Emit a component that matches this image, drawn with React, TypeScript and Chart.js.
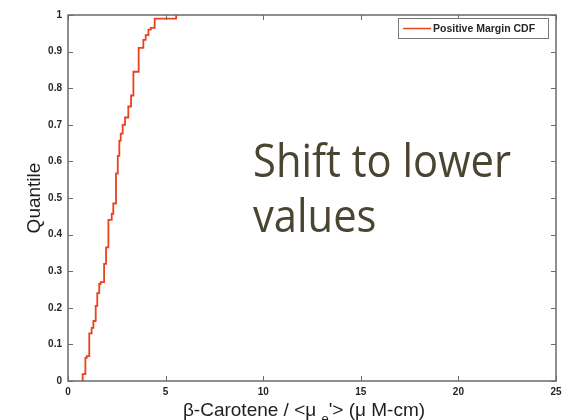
import React, { useEffect, useRef } from "react";
import { Chart, registerables } from "chart.js";

Chart.register(...registerables);

// Empirical CDF of positive margin (x = β-Carotene / <μe'>, q = quantile after step)
const cdfX = [0.75, 0.75, 0.89, 0.96, 1.09, 1.21, 1.30, 1.42, 1.50, 1.60, 1.67, 1.85, 1.95, 2.07, 2.24, 2.32, 2.46, 2.55, 2.63, 2.70, 2.80, 2.92, 3.09, 3.23, 3.35, 3.62, 3.86, 3.98, 4.12, 4.24, 4.44, 5.54];
const cdfQ = [0, 0.019, 0.063, 0.068, 0.13, 0.145, 0.164, 0.205, 0.24, 0.265, 0.27, 0.32, 0.365, 0.44, 0.457, 0.485, 0.567, 0.615, 0.657, 0.676, 0.70, 0.72, 0.75, 0.78, 0.845, 0.91, 0.932, 0.945, 0.96, 0.965, 0.99, 1.0];

const xTicks = [0, 5, 10, 15, 20, 25];
const yTicks = [0, 0.1, 0.2, 0.3, 0.4, 0.5, 0.6, 0.7, 0.8, 0.9, 1];

const seriesLabel = "Positive Margin CDF";
const xTitleParts = ["β-Carotene / <μ ", "e", "'> (μ M-cm)"];
const yTitle = "Quantile";
const annotationLines = ["Shift to lower", "values"];

const LINE_COLOR = "#e8421e";
const AXIS_COLOR = "#6a6a6a";
const TEXT_COLOR = "#262626";
const NOTE_COLOR = "#4a4530";

const decorPlugin = {
  id: "decor",
  afterDraw(chart: any) {
    const { ctx, chartArea, scales } = chart;
    const xs = scales.x;
    const ys = scales.y;
    const { left, right, top, bottom } = chartArea;
    ctx.save();
    // box
    ctx.strokeStyle = AXIS_COLOR;
    ctx.lineWidth = 1.5;
    ctx.strokeRect(left, top, right - left, bottom - top);
    // inward ticks
    ctx.lineWidth = 1;
    const tl = 5;
    ctx.beginPath();
    for (const v of xTicks) {
      const px = Math.round(xs.getPixelForValue(v)) + 0.5;
      ctx.moveTo(px, bottom);
      ctx.lineTo(px, bottom - tl);
      ctx.moveTo(px, top);
      ctx.lineTo(px, top + tl);
    }
    for (const v of yTicks) {
      const py = Math.round(ys.getPixelForValue(v)) + 0.5;
      ctx.moveTo(left, py);
      ctx.lineTo(left + tl, py);
      ctx.moveTo(right, py);
      ctx.lineTo(right - tl, py);
    }
    ctx.stroke();

    // legend
    const lx = 398, ly = 18, lw = 150, lh = 20;
    ctx.fillStyle = "#ffffff";
    ctx.fillRect(lx, ly, lw, lh);
    ctx.strokeStyle = "#7a7a7a";
    ctx.lineWidth = 1;
    ctx.strokeRect(lx + 0.5, ly + 0.5, lw, lh);
    ctx.strokeStyle = LINE_COLOR;
    ctx.lineWidth = 1.5;
    ctx.beginPath();
    ctx.moveTo(lx + 5, ly + lh / 2 + 0.5);
    ctx.lineTo(lx + 33, ly + lh / 2 + 0.5);
    ctx.stroke();
    ctx.fillStyle = TEXT_COLOR;
    ctx.font = "bold 10.5px 'Liberation Sans', Arial, sans-serif";
    ctx.textBaseline = "middle";
    ctx.textAlign = "left";
    ctx.fillText(seriesLabel, lx + 35, ly + lh / 2 + 1);

    // x title
    ctx.textBaseline = "alphabetic";
    ctx.fillStyle = "#1e1e1e";
    const smallFont = "13px 'Liberation Sans', Arial, sans-serif";
    const bigFont = "19px 'Liberation Sans', Arial, sans-serif";
    ctx.font = bigFont;
    const w0 = ctx.measureText(xTitleParts[0]).width;
    const w2 = ctx.measureText(xTitleParts[2]).width;
    ctx.font = smallFont;
    const w1 = ctx.measureText(xTitleParts[1]).width;
    const total = w0 + w1 + w2;
    let cx = (left + right) / 2 - 8 - total / 2;
    const base = 416;
    ctx.font = bigFont;
    ctx.fillText(xTitleParts[0], cx, base);
    cx += w0;
    ctx.font = smallFont;
    ctx.fillText(xTitleParts[1], cx, base + 7);
    cx += w1;
    ctx.font = bigFont;
    ctx.fillText(xTitleParts[2], cx, base);

    // y title
    ctx.save();
    ctx.translate(40, (top + bottom) / 2);
    ctx.rotate(-Math.PI / 2);
    ctx.textAlign = "center";
    ctx.font = bigFont;
    ctx.fillText(yTitle, 0, 0);
    ctx.restore();

    // annotation
    ctx.fillStyle = NOTE_COLOR;
    ctx.font = "45px 'Open Sans', sans-serif";
    ctx.textAlign = "left";
    const mw = ctx.measureText(annotationLines[0]).width;
    const sx = 258 / mw;
    ctx.save();
    ctx.translate(253, 177);
    ctx.scale(sx, 1);
    ctx.fillText(annotationLines[0], 0, 0);
    ctx.fillText(annotationLines[1], 0, 55);
    ctx.restore();

    ctx.restore();
  },
};

export default function App() {
  const ref = useRef<HTMLCanvasElement>(null);
  useEffect(() => {
    if (!ref.current) return;
    const tickFont = { family: "'Liberation Sans', Arial, sans-serif", size: 10, weight: "bold" as const };
    const chart = new Chart(ref.current, {
      type: "line",
      data: {
        datasets: [
          {
            label: seriesLabel,
            data: cdfX.map((x, i) => ({ x, y: cdfQ[i] })),
            borderColor: LINE_COLOR,
            borderWidth: 1.8,
            pointRadius: 0,
            stepped: true,
            fill: false,
          },
        ],
      },
      options: {
        animation: false,
        responsive: false,
        devicePixelRatio: 1,
        layout: { padding: { left: 0, top: 15, right: 16, bottom: 0 } },
        plugins: { legend: { display: false }, tooltip: { enabled: false } },
        scales: {
          x: {
            type: "linear",
            min: 0,
            max: 25,
            afterFit: (s: any) => { s.height = 39; },
            afterBuildTicks: (s: any) => { s.ticks = xTicks.map((v) => ({ value: v })); },
            grid: { display: false, drawTicks: false },
            border: { display: false },
            ticks: {
              padding: 5,
              color: TEXT_COLOR,
              font: tickFont,
              maxRotation: 0,
              callback: (v: any) => String(v),
            },
          },
          y: {
            type: "linear",
            min: 0,
            max: 1,
            afterFit: (s: any) => { s.width = 68; },
            afterBuildTicks: (s: any) => { s.ticks = yTicks.map((v) => ({ value: v })); },
            grid: { display: false, drawTicks: false },
            border: { display: false },
            ticks: {
              padding: 6,
              color: TEXT_COLOR,
              font: tickFont,
              callback: (v: any) => String(Math.round(Number(v) * 10) / 10),
            },
          },
        },
      },
      plugins: [decorPlugin],
    });
    return () => chart.destroy();
  }, []);
  return (
    <div style={{ position: "absolute", left: 0, top: 0, width: 572, height: 420, background: "#fff" }}>
      <canvas ref={ref} width={572} height={420} style={{ display: "block", width: 572, height: 420 }} />
    </div>
  );
}
